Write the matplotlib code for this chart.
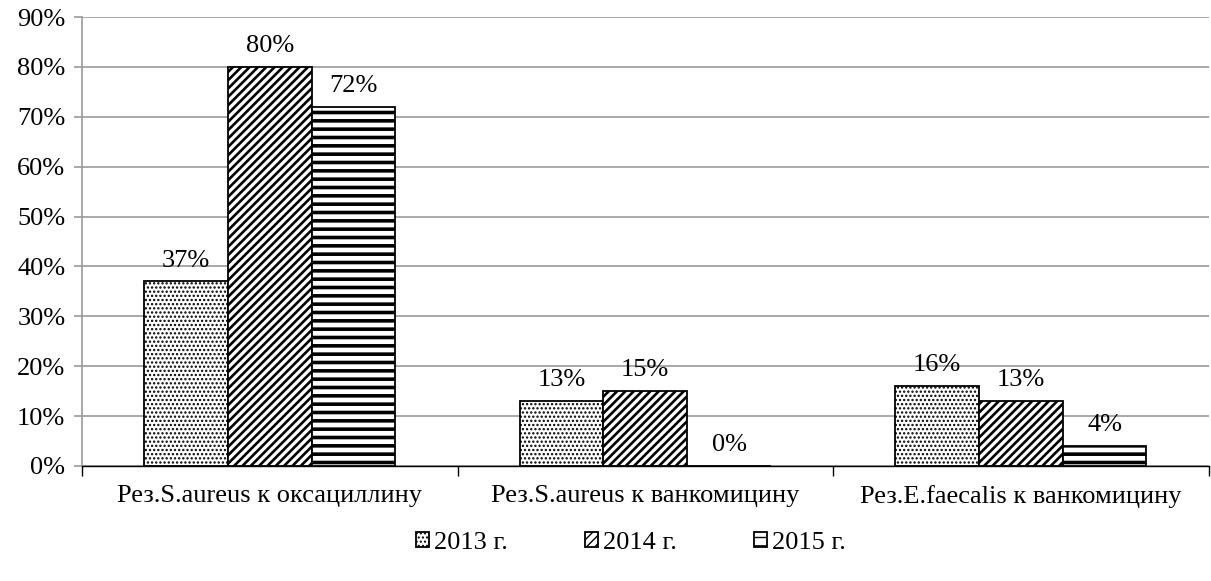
import numpy as np
import matplotlib
matplotlib.use('Agg')
import matplotlib.pyplot as plt
from matplotlib.ticker import FuncFormatter, FixedLocator

plt.rcParams['font.family'] = ['Liberation Serif', 'DejaVu Serif']
plt.rcParams['font.size'] = 19

# Данные
categories = ['Рез.S.aureus к оксациллину', 'Рез.S.aureus к ванкомицину',
              'Рез.E.faecalis к ванкомицину']
years = ['2013 г.', '2014 г.', '2015 г.']
values_2013 = [37, 13, 16]
values_2014 = [80, 15, 13]
values_2015 = [72, 0, 4]

series = [values_2013, values_2014, values_2015]
hatches = ['....', '////', '--']
hatch_widths = [1.1, 1.9, 2.6]

fig = plt.figure(figsize=(12.11, 5.81), dpi=100)
ax = fig.add_axes([0.0677, 0.198, 0.9303, 0.7727])

x = np.arange(len(categories))
width = 0.223
for i, (vals, h, hw, lab) in enumerate(zip(series, hatches, hatch_widths, years)):
    with plt.rc_context({'hatch.linewidth': hw}):
        bars = ax.bar(x + (i - 1) * width, vals, width, color='white',
                      edgecolor='black', linewidth=1.3, hatch=h, label=lab,
                      zorder=3)
    for b, v in zip(bars, vals):
        ax.annotate(f'{v}%', (b.get_x() + b.get_width() / 2, v),
                    xytext=(0, 7), textcoords='offset points',
                    ha='center', va='bottom', fontsize=19,
                    family='Liberation Serif')

ax.set_xlim(-0.5, 2.5)
ax.set_ylim(0, 90)
ax.set_yticks(np.arange(0, 91, 10))
ax.yaxis.set_major_formatter(FuncFormatter(lambda v, p: f'{v:.0f}%'))
ax.yaxis.grid(True, color='#999999', linewidth=1.2, zorder=0)

ax.set_xticks(x)
ax.set_xticklabels(categories, family='Liberation Serif')
ax.xaxis.set_minor_locator(FixedLocator([-0.5, 0.5, 1.5, 2.5]))
ax.tick_params(axis='x', which='major', length=0, pad=14, labelsize=19)
ax.tick_params(axis='x', which='minor', length=7, width=1, color='black')
ax.tick_params(axis='y', length=6, width=1.2, color='#999999', labelsize=19, pad=6)
for t in ax.get_yticklabels():
    t.set_family('Liberation Serif')

for s in ['top', 'right']:
    ax.spines[s].set_visible(False)
ax.spines['left'].set_color('#999999')
ax.spines['left'].set_linewidth(1.2)
ax.spines['bottom'].set_color('black')
ax.spines['bottom'].set_linewidth(1.0)
ax.spines['bottom'].set_zorder(4)

fig.legend(loc='center', bbox_to_anchor=(0.521, 0.066), ncol=3, frameon=False,
           prop={'family': 'Liberation Serif', 'size': 19},
           handlelength=0.5, handleheight=0.5, handletextpad=0.2,
           columnspacing=2.9)

fig.savefig('out.png', dpi=100)
